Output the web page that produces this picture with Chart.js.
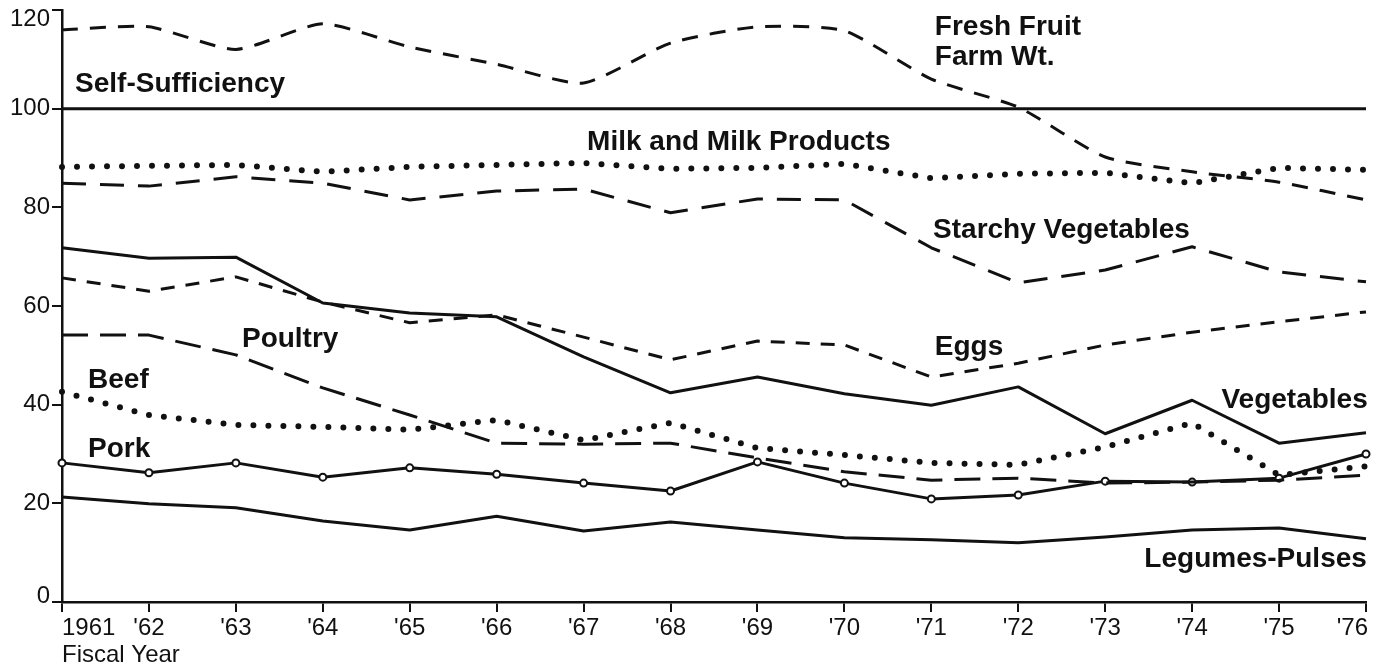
<!DOCTYPE html>
<html>
<head>
<meta charset="utf-8">
<script src="https://cdn.jsdelivr.net/npm/chart.js@4"></script>
<style>
  html, body { margin: 0; padding: 0; background: #fff; }
  #wrap { width: 1375px; height: 669px; }
</style>
</head>
<body>
<div id="wrap"><canvas id="myChart" width="1375" height="669"></canvas></div>
<script>
// fiscal years on the x axis
const years = ["1961", "'62", "'63", "'64", "'65", "'66", "'67", "'68", "'69", "'70", "'71", "'72", "'73", "'74", "'75", "'76"];
const yTicks = [0, 20, 40, 60, 80, 100, 120];

// self-sufficiency ratios, percent
const freshFruit = [116, 116.6, 112, 117.2, 112.5, 109, 105.2, 113.3, 116.6, 115.8, 106, 100.3, 90.2, 87.2, 85.1, 81.5];
const selfSufficiency = [100, 100, 100, 100, 100, 100, 100, 100, 100, 100, 100, 100, 100, 100, 100, 100];
const milk = [88.2, 88.4, 88.6, 87.2, 88.2, 88.6, 89, 87.8, 88, 88.8, 85.9, 86.8, 87, 84.9, 88, 87.6];
const starchyVeg = [84.9, 84.3, 86.2, 84.9, 81.5, 83.3, 83.7, 78.9, 81.7, 81.5, 71.8, 64.7, 67.3, 72, 66.9, 64.9];
const vegetables = [71.8, 69.7, 69.9, 60.6, 58.6, 57.8, 49.7, 42.4, 45.6, 42.2, 39.9, 43.6, 34.1, 40.9, 32.2, 34.3];
const eggs = [65.7, 63, 65.9, 60.8, 56.6, 58.2, 53.7, 49.1, 52.9, 52.1, 45.6, 48.4, 52.1, 54.7, 56.8, 58.8];
const poultry = [54.1, 54.1, 50.1, 43.4, 37.9, 32.2, 32, 32.2, 29.2, 26.4, 24.7, 25.1, 24.1, 24.3, 24.7, 25.7];
const beef = [42.6, 37.9, 35.9, 35.5, 34.9, 36.9, 32.8, 36.3, 31.2, 29.8, 28.2, 27.8, 31.4, 36.3, 25.7, 27.5];
const pork = [28.2, 26.2, 28.2, 25.3, 27.2, 25.9, 24.1, 22.5, 28.4, 24.1, 20.9, 21.7, 24.5, 24.3, 25.1, 30];
const legumes = [21.3, 19.9, 19.1, 16.4, 14.6, 17.4, 14.4, 16.2, 14.6, 13, 12.6, 12, 13.2, 14.6, 15, 12.8];

// series names written on the plot (x = category index, y = value of baseline)
const seriesLabels = [
  { text: "Fresh Fruit", x: 10.04, y: 114.9, align: "left" },
  { text: "Farm Wt.", x: 10.04, y: 108.9, align: "left" },
  { text: "Self-Sufficiency", x: 0.15, y: 103.4, align: "left" },
  { text: "Milk and Milk Products", x: 6.04, y: 91.6, align: "left" },
  { text: "Starchy Vegetables", x: 10.02, y: 73.8, align: "left" },
  { text: "Poultry", x: 2.07, y: 51.7, align: "left" },
  { text: "Eggs", x: 10.04, y: 50.1, align: "left" },
  { text: "Beef", x: 0.3, y: 43.4, align: "left" },
  { text: "Vegetables", x: 15.02, y: 39.3, align: "right" },
  { text: "Pork", x: 0.3, y: 29.4, align: "left" },
  { text: "Legumes-Pulses", x: 15.01, y: 7.1, align: "right" },
];

const INK = "#111";
const SOLID = [];
const DOTS = [0, 15];

function line(label, data, dash, extra) {
  return Object.assign({
    label: label,
    data: data,
    borderColor: INK,
    borderWidth: dash === DOTS ? 6 : 3,
    borderDash: dash,
    borderCapStyle: dash === DOTS ? "round" : "butt",
    borderJoinStyle: "round",
    pointRadius: 0,
    tension: 0,
    fill: false,
  }, extra || {});
}

const textPlugin = {
  id: "textPlugin",
  afterDraw(chart) {
    const ctx = chart.ctx;
    const xs = chart.scales.x;
    const ys = chart.scales.y;
    const area = chart.chartArea;
    ctx.save();
    ctx.fillStyle = INK;

    // y tick labels
    ctx.font = "24px 'Liberation Sans', Arial, sans-serif";
    ctx.textAlign = "right";
    ctx.textBaseline = "middle";
    yTicks.forEach((v) => {
      let py = ys.getPixelForValue(v);
      py = Math.max(py, area.top + 9);
      py = Math.min(py, area.bottom - 6);
      ctx.fillText(String(v), area.left - 12, py);
    });

    // x tick labels, first one hangs right of its tick, last one left
    ctx.textBaseline = "alphabetic";
    years.forEach((lbl, i) => {
      const px = xs.getPixelForValue(i);
      ctx.textAlign = i === 0 ? "left" : (i === years.length - 1 ? "right" : "center");
      ctx.fillText(lbl, px + (i === years.length - 1 ? 2 : 0), area.bottom + 33);
    });
    ctx.textAlign = "left";
    ctx.fillText("Fiscal Year", area.left, area.bottom + 60);

    // series names
    ctx.font = "bold 28px 'Liberation Sans', Arial, sans-serif";
    seriesLabels.forEach((l) => {
      ctx.textAlign = l.align;
      ctx.fillText(l.text, xs.getPixelForValue(l.x), ys.getPixelForValue(l.y));
    });
    ctx.restore();
  },
};

new Chart("myChart", {
  type: "line",
  data: {
    labels: years,
    datasets: [
      line("Fresh Fruit Farm Wt.", freshFruit, [16, 12], { tension: 0.2 }),
      line("Self-Sufficiency", selfSufficiency, SOLID),
      line("Milk and Milk Products", milk, DOTS),
      line("Starchy Vegetables", starchyVeg, [24, 14]),
      line("Vegetables", vegetables, SOLID),
      line("Eggs", eggs, [14, 11]),
      line("Poultry", poultry, [26, 12]),
      line("Beef", beef, DOTS),
      line("Pork", pork, SOLID, {
        pointRadius: 3.5,
        pointBackgroundColor: "#fff",
        pointBorderColor: INK,
        pointBorderWidth: 2,
      }),
      line("Legumes-Pulses", legumes, SOLID),
    ],
  },
  options: {
    responsive: false,
    animation: false,
    layout: { padding: { top: 10, right: 9, bottom: 0, left: 0 } },
    plugins: {
      legend: { display: false },
      tooltip: { enabled: false },
      title: { display: false },
    },
    events: [],
    scales: {
      x: {
        type: "category",
        offset: false,
        afterFit: (s) => { s.height = 67; },
        ticks: { display: false },
        grid: {
          drawOnChartArea: false,
          drawTicks: true,
          tickLength: 10,
          color: INK,
          lineWidth: 2,
        },
        border: { display: true, color: INK, width: 2.5 },
      },
      y: {
        min: 0,
        max: 120,
        afterFit: (s) => { s.width = 62; },
        ticks: { display: false, stepSize: 20 },
        grid: {
          drawOnChartArea: false,
          drawTicks: true,
          tickLength: 10,
          color: INK,
          lineWidth: 2,
        },
        border: { display: true, color: INK, width: 2.5 },
      },
    },
  },
  plugins: [textPlugin],
});
</script>
</body>
</html>
